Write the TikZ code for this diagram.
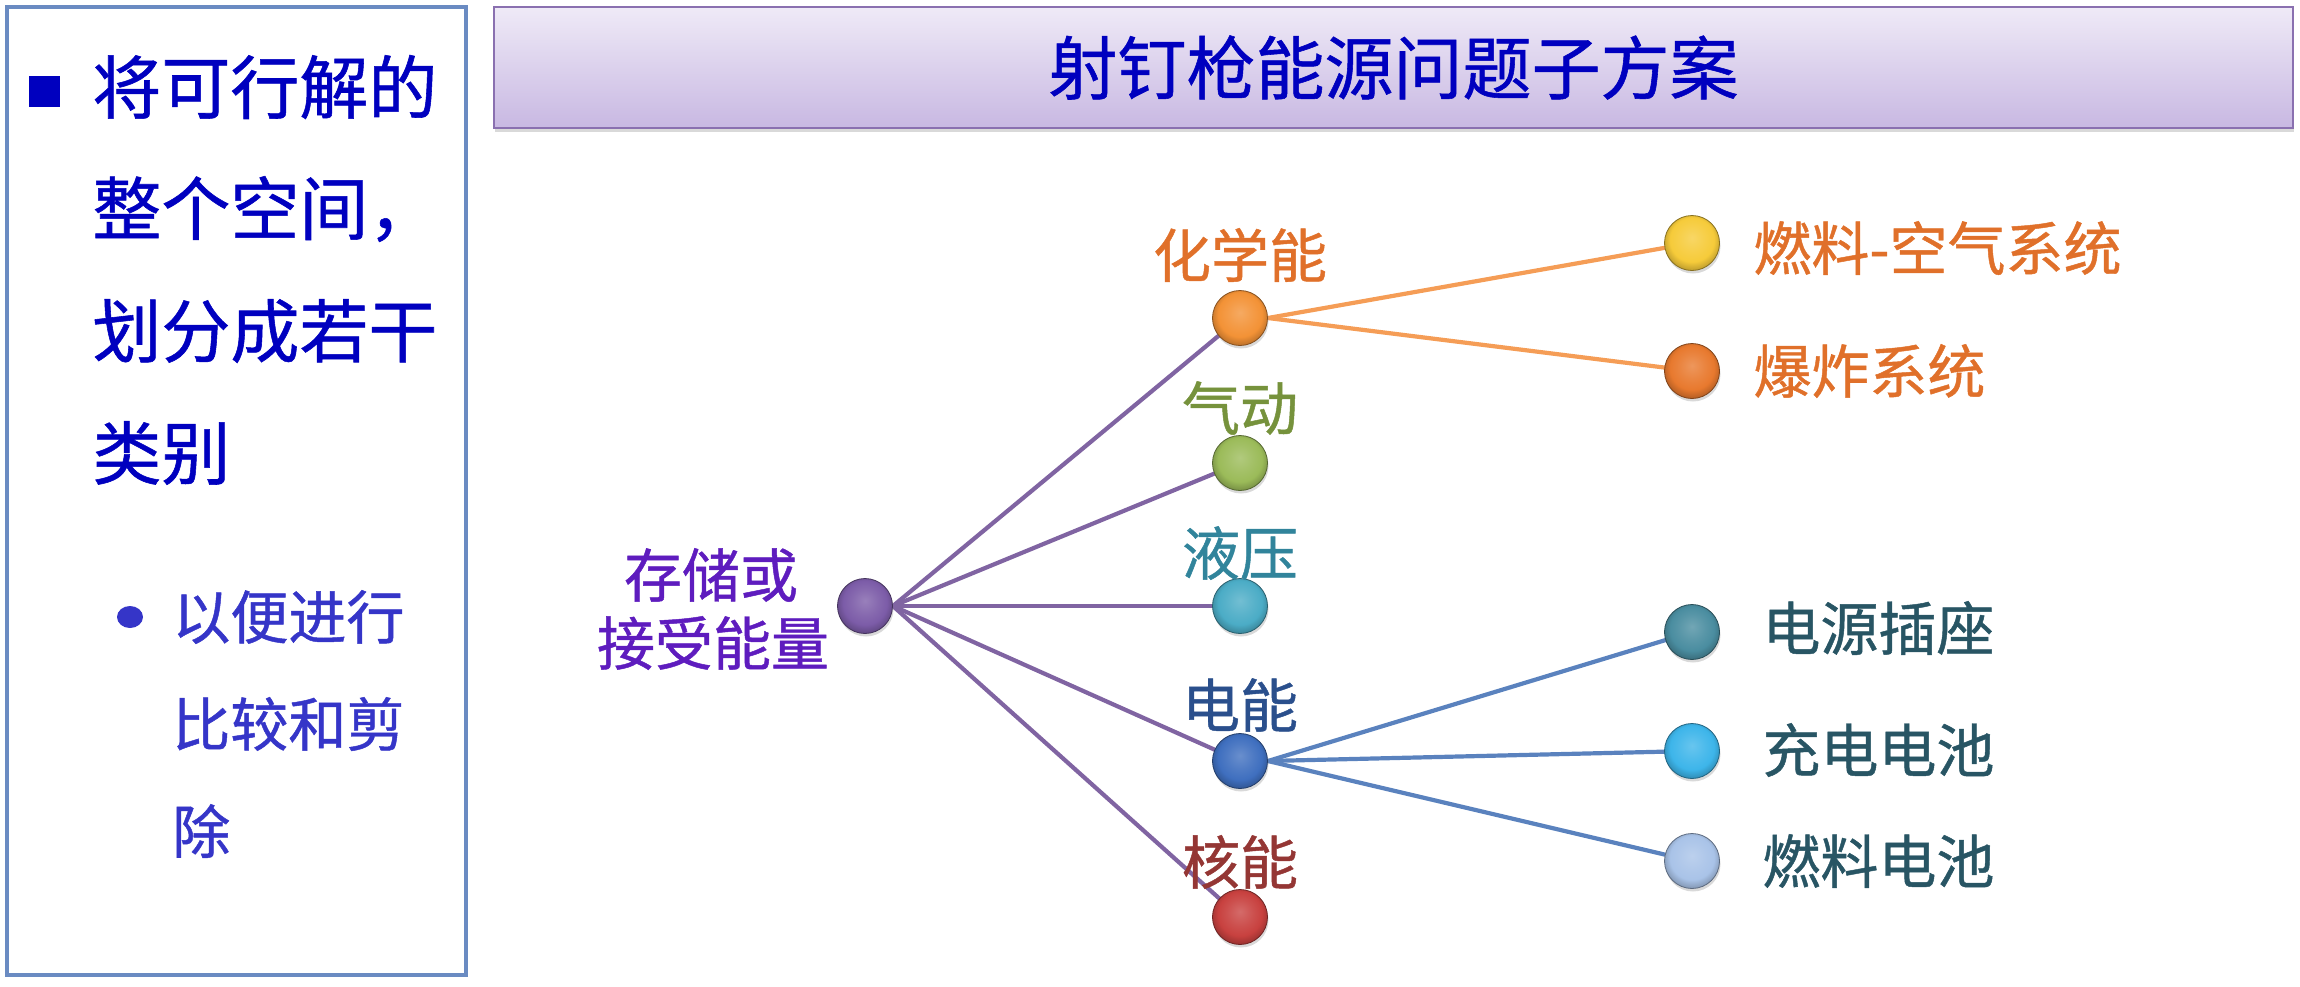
\documentclass[tikz,border=0pt]{standalone}
\usepackage{fontspec}
\setmainfont{Noto Sans CJK SC}[FakeBold=0.8]
\usetikzlibrary{shadows,backgrounds,shapes.geometric}

% palette
\definecolor{panelframe}{HTML}{6A8BC2}
\definecolor{mainblue}{HTML}{0000BF}
\definecolor{subblue}{HTML}{3535C8}
\definecolor{titletop}{HTML}{EFEAF7}
\definecolor{titlebot}{HTML}{C8B8E2}
\definecolor{titleframe}{HTML}{8A70B0}
\definecolor{rootball}{HTML}{7C5CA8}
\definecolor{chemball}{HTML}{F39236}
\definecolor{pneuball}{HTML}{9BBB59}
\definecolor{hydrball}{HTML}{4BACC6}
\definecolor{elecball}{HTML}{3F6FBF}
\definecolor{nucball}{HTML}{C8413F}
\definecolor{faball}{HTML}{F6CB3A}
\definecolor{exball}{HTML}{E8792E}
\definecolor{sockball}{HTML}{4A8DA0}
\definecolor{battball}{HTML}{3DB5EA}
\definecolor{fcball}{HTML}{A9C3E8}
\definecolor{roottxt}{HTML}{5E1CBE}
\definecolor{chemtxt}{HTML}{E0702A}
\definecolor{pneutxt}{HTML}{76923C}
\definecolor{hydrtxt}{HTML}{31849B}
\definecolor{electxt}{HTML}{2A4F8C}
\definecolor{nuctxt}{HTML}{943634}
\definecolor{elsubtxt}{HTML}{285564}
\definecolor{purpleline}{HTML}{8064A2}
\definecolor{orangeline}{HTML}{F59D56}
\definecolor{blueline}{HTML}{5A82BE}

% glossy sphere: light cap on top, darker rim at the bottom
\colorlet{ballbase}{gray}
\pgfdeclareradialshading[ballbase]{softball}{\pgfpoint{0bp}{5bp}}{%
  color(0bp)=(ballbase!78!white);
  color(12bp)=(ballbase!92!white);
  color(20bp)=(ballbase);
  color(27bp)=(ballbase!78!black);
  color(31bp)=(ballbase!62!black);
  color(50bp)=(ballbase!62!black)}

\tikzset{
  ball/.style={circle, minimum size=27.5pt, inner sep=0pt,
    draw=#1!55!black, line width=0.4pt,
    /utils/exec={\colorlet{ballbase}{#1}}, shading=softball,
    drop shadow={opacity=0.3, shadow xshift=0.5pt, shadow yshift=-1.5pt}},
  lbl/.style={inner sep=0pt, font=\fontsize{29}{34}\selectfont},
  maintxt/.style={inner sep=0pt, anchor=west, text=mainblue, font=\fontsize{34.5}{40}\selectfont},
  subtxt/.style={inner sep=0pt, anchor=west, text=subblue, font=\fontsize{29}{34}\selectfont},
  link/.style={line width=2.1pt, draw=#1},
}

\begin{document}
\begin{tikzpicture}[x=0.5pt, y=-0.5pt]
\useasboundingbox (0,0) rectangle (2300,986);

% left panel with the bullet text
\node[draw=panelframe, line width=1.9pt, minimum width=229.5pt, minimum height=484pt, inner sep=0pt] (panel) at (236.5,491) {};
\node[fill=mainblue, minimum size=15.5pt, inner sep=0pt] (sq) at (44,91) {};
\node[maintxt] (m1) at (92,87) {将可行解的};
\node[maintxt] (m2) at (92,209) {整个空间，};
\node[maintxt] (m3) at (92,331) {划分成若干};
\node[maintxt] (m4) at (92,453) {类别};
\node[ellipse, fill=subblue, minimum width=13pt, minimum height=11pt, inner sep=0pt] (dot) at (130,617) {};
\node[subtxt] (s1) at (172,617) {以便进行};
\node[subtxt] (s2) at (172,724) {比较和剪};
\node[subtxt] (s3) at (172,831) {除};

% title bar
\node[draw=titleframe, line width=1.4pt, top color=titletop, bottom color=titlebot,
      minimum width=899.5pt, minimum height=60.5pt, inner sep=0pt,
      text=mainblue, font=\fontsize{34.5}{40}\selectfont,
      drop shadow={opacity=0.3, shadow xshift=0.5pt, shadow yshift=-2pt}] (title) at (1393.5,67.5) {射钉枪能源问题子方案};

% tree balls
\node[ball=rootball] (root) at (865,606) {};
\node[ball=chemball] (chem) at (1240,318) {};
\node[ball=pneuball] (pneu) at (1240,463) {};
\node[ball=hydrball] (hydr) at (1240,606) {};
\node[ball=elecball] (elec) at (1240,761) {};
\node[ball=nucball] (nuc) at (1240,917) {};
\node[ball=faball] (fa) at (1692,243) {};
\node[ball=exball] (ex) at (1692,371) {};
\node[ball=sockball] (sock) at (1692,632) {};
\node[ball=battball] (batt) at (1692,751) {};
\node[ball=fcball] (fc) at (1692,861) {};

% connectors behind the balls
\begin{pgfonlayer}{background}
\foreach \t in {chem,pneu,hydr,elec,nuc}
  \draw[link=purpleline] (root.east) -- (\t.center);
\foreach \t in {fa,ex}
  \draw[link=orangeline] (chem.east) -- (\t.center);
\foreach \t in {sock,batt,fc}
  \draw[link=blueline] (elec.east) -- (\t.center);
\end{pgfonlayer}

% labels
\node[lbl, text=roottxt] (rootA) at (711,575) {存储或};
\node[lbl, text=roottxt] (rootB) at (713,643) {接受能量};
\node[lbl, text=chemtxt] (chemL) at (1240,255) {化学能};
\node[lbl, text=pneutxt] (pneuL) at (1240,408) {气动};
\node[lbl, text=hydrtxt] (hydrL) at (1240,553) {液压};
\node[lbl, text=electxt] (elecL) at (1240,705) {电能};
\node[lbl, text=nuctxt] (nucL) at (1240,862) {核能};
\node[lbl, text=chemtxt, anchor=west] (faL) at (1753,248) {燃料-空气系统};
\node[lbl, text=chemtxt, anchor=west] (exL) at (1753,371) {爆炸系统};
\node[lbl, text=elsubtxt, anchor=west] (sockL) at (1762,628) {电源插座};
\node[lbl, text=elsubtxt, anchor=west] (battL) at (1762,750) {充电电池};
\node[lbl, text=elsubtxt, anchor=west] (fcL) at (1762,861) {燃料电池};
\end{tikzpicture}
\end{document}
